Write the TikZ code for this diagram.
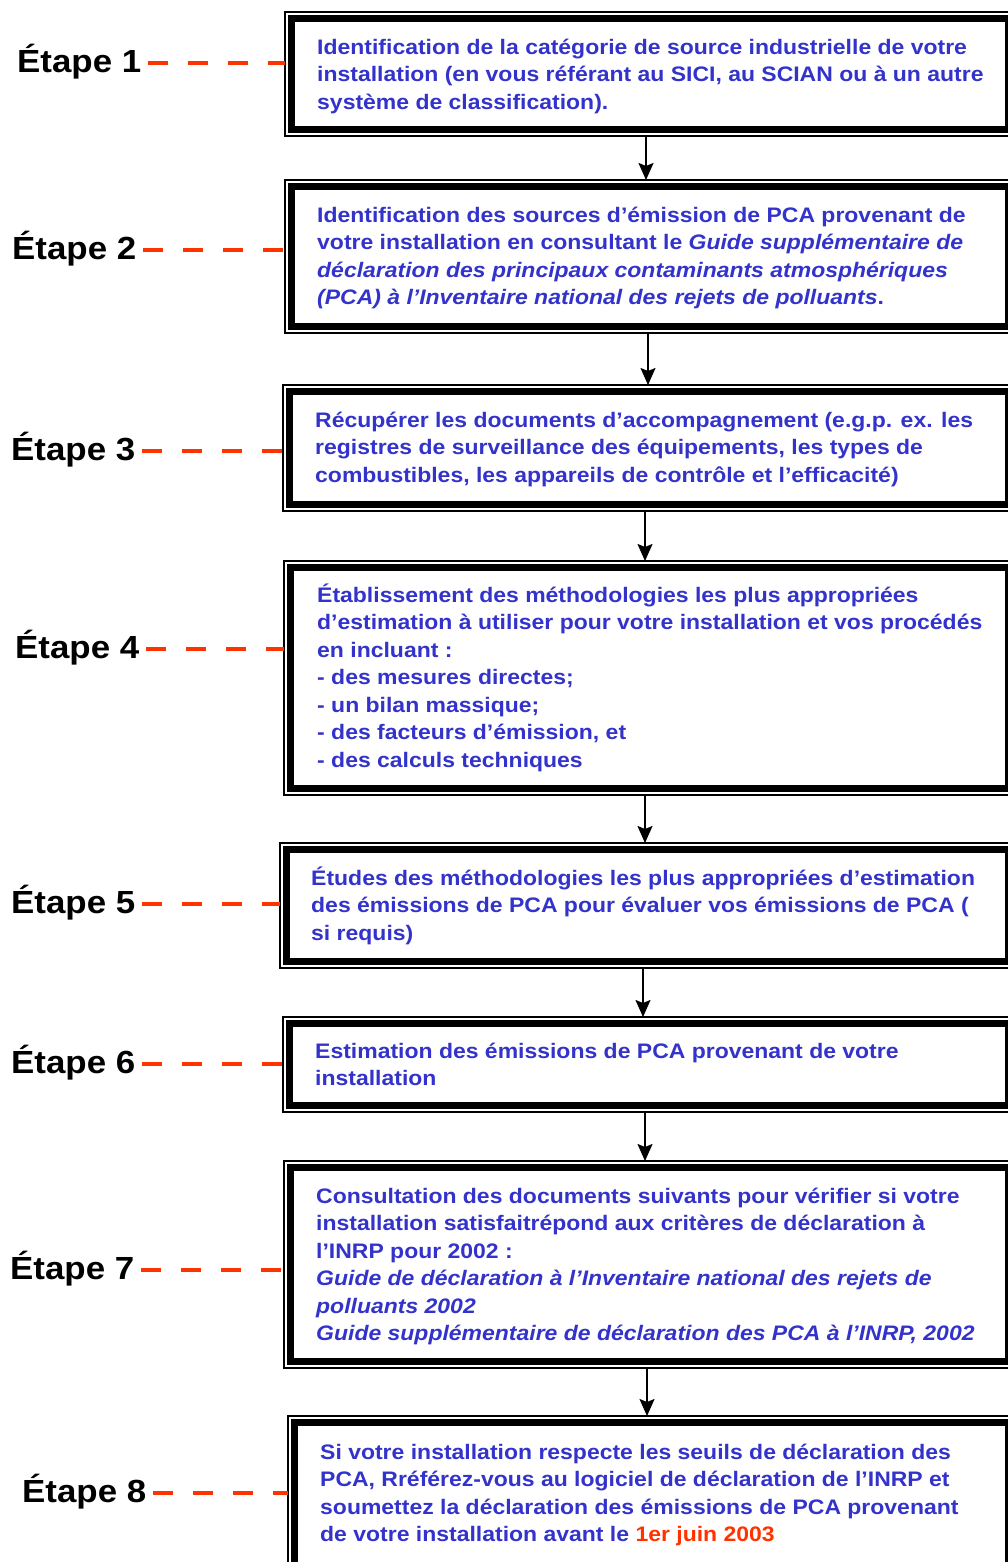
\documentclass[tikz,border=0pt]{standalone}
\usepackage{fontspec}
\setmainfont{Liberation Sans}
\newfontfamily\boxfont{Liberation Sans}[FakeStretch=1.094]
\newfontfamily\labfont{Liberation Sans}[FakeStretch=1.09]
\usetikzlibrary{arrows.meta}
\definecolor{txtblue}{RGB}{51,51,204}
\definecolor{dashred}{RGB}{255,51,0}
\newcommand\mkbox[4]{%
  \node[stepbox, minimum width={1015-#2}, minimum height={#4-#3}] (#1) at (#2,#3) {};
  \draw[frame] ([shift={(6.5pt,-6.5pt)}]#1.north west) rectangle ([shift={(-6.5pt,6.5pt)}]#1.south east);}
\newcommand\fs{\rule{0pt}{21pt}}
\begin{document}
\begin{tikzpicture}[x=1pt,y=-1pt,
  stepbox/.style={draw=black, line width=1.5pt, fill=white, inner sep=0pt, outer sep=0pt, anchor=north west},
  frame/.style={draw=black, line width=7pt},
  boxtext/.style={anchor=north west, inner sep=0pt, align=left, text=txtblue, font=\boxfont\bfseries\fontsize{21}{27.5}\selectfont},
  steplabel/.style={anchor=base west, inner sep=0pt, font=\labfont\bfseries\fontsize{32}{38}\selectfont, text height=23pt, text depth=4.4pt},
  dashline/.style={draw=dashred, line width=4.5pt, dash pattern=on 20pt off 20pt},
  arr/.style={draw=black, line width=1.8pt, -{Stealth[length=17pt,width=15pt,inset=3pt]}}]
\useasboundingbox (0,0) rectangle (1008,1562);
\clip (0,0) rectangle (1008,1562);
\fill[white] (0,0) rectangle (1008,1562);

% boxes
\mkbox{b1}{285}{12}{136}
\mkbox{b2}{285}{180}{333}
\mkbox{b3}{283}{385}{511}
\mkbox{b4}{284}{561}{795}
\mkbox{b5}{280}{843}{968}
\mkbox{b6}{283}{1017}{1112}
\mkbox{b7}{284}{1161}{1368}
\mkbox{b8}{288}{1416}{1590}

% texts
\node[boxtext] (t1) at (317,33) {\fs Identification de la catégorie de source industrielle de votre\\
installation (en vous référant au SICI, au SCIAN ou à un autre\\
système de classification).};
\node[boxtext] (t2) at (317,201) {\fs Identification des sources d’émission de PCA provenant de\\
votre installation en consultant le \textit{Guide supplémentaire de}\\
\textit{déclaration des principaux contaminants atmosphériques}\\
\textit{(PCA) à l’Inventaire national des rejets de polluants}.};
\node[boxtext] (t3) at (315,406) {\fs Récupérer les documents d’accompagnement (e.g.p. ex. les\\
registres de surveillance des équipements, les types de\\
combustibles, les appareils de contrôle et l’efficacité)};
\node[boxtext] (t4) at (317,581) {\fs Établissement des méthodologies les plus appropriées\\
d’estimation à utiliser pour votre installation et vos procédés\\
en incluant :\\
- des mesures directes;\\
- un bilan massique;\\
- des facteurs d’émission, et\\
- des calculs techniques};
\node[boxtext] (t5) at (311,864) {\fs Études des méthodologies les plus appropriées d’estimation\\
des émissions de PCA pour évaluer vos émissions de PCA (\\
si requis)};
\node[boxtext] (t6) at (315,1037) {\fs Estimation des émissions de PCA provenant de votre\\
installation};
\node[boxtext] (t7) at (316,1182) {\fs Consultation des documents suivants pour vérifier si votre\\
installation satisfaitrépond aux critères de déclaration à\\
l’INRP pour 2002 :\\
\textit{Guide de déclaration à l’Inventaire national des rejets de}\\
\textit{polluants 2002}\\
\textit{Guide supplémentaire de déclaration des PCA à l’INRP, 2002}};
\node[boxtext] (t8) at (320,1438) {\fs Si votre installation respecte les seuils de déclaration des\\
PCA, Rréférez-vous au logiciel de déclaration de l’INRP et\\
soumettez la déclaration des émissions de PCA provenant\\
de votre installation avant le \textcolor{dashred}{1er juin 2003}};

% step labels (baseline = dash line + 9.3)
\node[steplabel] (l1) at (17,72.3) {Étape 1};
\node[steplabel] (l2) at (12,259.3) {Étape 2};
\node[steplabel] (l3) at (11,460.3) {Étape 3};
\node[steplabel] (l4) at (15,658.3) {Étape 4};
\node[steplabel] (l5) at (11,913.3) {Étape 5};
\node[steplabel] (l6) at (11,1073.3) {Étape 6};
\node[steplabel] (l7) at (10,1279.3) {Étape 7};
\node[steplabel] (l8) at (22,1502.3) {Étape 8};

% dashes
\foreach \i in {1,...,8}{
  \draw[dashline] ([xshift=7pt]l\i.east) -- (l\i.east -| b\i.west);
}

% arrows
\draw[arr] (b1.south -| 646,0) -- (b2.north -| 646,0);
\draw[arr] (b2.south -| 648,0) -- (b3.north -| 648,0);
\draw[arr] (b3.south -| 645,0) -- (b4.north -| 645,0);
\draw[arr] (b4.south -| 645,0) -- (b5.north -| 645,0);
\draw[arr] (b5.south -| 643,0) -- (b6.north -| 643,0);
\draw[arr] (b6.south -| 645,0) -- (b7.north -| 645,0);
\draw[arr] (b7.south -| 647,0) -- (b8.north -| 647,0);
\end{tikzpicture}
\end{document}
